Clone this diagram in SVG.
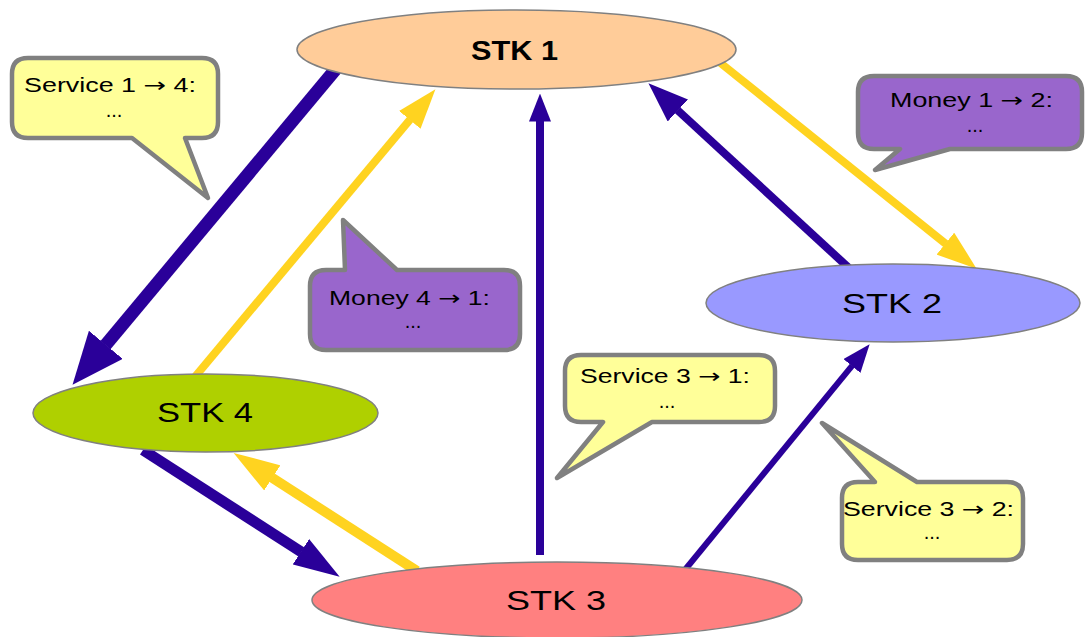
<svg xmlns="http://www.w3.org/2000/svg" width="1091" height="637" viewBox="0 0 1091 637">
<style>
.bl{stroke:#2a0099;fill:none}
.yl{stroke:#ffd320;fill:none}
.node{stroke:#808080;stroke-width:1.5}
.nt{font-family:"Liberation Sans",Arial,sans-serif;font-size:27px;fill:#000;text-anchor:middle}
.co{stroke:#808080;stroke-width:4.5;stroke-linejoin:round}
.ct{font-family:"Liberation Sans",Arial,sans-serif;font-size:20px;fill:#000;text-anchor:middle}
.ar{font-family:"DejaVu Sans",sans-serif}
.yel{fill:#ffff99}
.pur{fill:#9966cc}
</style>
<defs>
<marker id="hbB" markerUnits="userSpaceOnUse" viewBox="0 0 52 44" refX="0.5" refY="22" markerWidth="52" markerHeight="44" orient="auto"><path d="M0,0 L52,22 L0,44 Z" fill="#2a0099"/></marker>
<marker id="hmB" markerUnits="userSpaceOnUse" viewBox="0 0 46 30" refX="0.5" refY="15" markerWidth="46" markerHeight="30" orient="auto"><path d="M0,0 L46,15 L0,30 Z" fill="#2a0099"/></marker>
<marker id="hmY" markerUnits="userSpaceOnUse" viewBox="0 0 46 30" refX="0.5" refY="15" markerWidth="46" markerHeight="30" orient="auto"><path d="M0,0 L46,15 L0,30 Z" fill="#ffd320"/></marker>
<marker id="hsB" markerUnits="userSpaceOnUse" viewBox="0 0 40 30" refX="0.5" refY="15" markerWidth="40" markerHeight="30" orient="auto"><path d="M0,0 L40,15 L0,30 Z" fill="#2a0099"/></marker>
<marker id="hsY" markerUnits="userSpaceOnUse" viewBox="0 0 40 28" refX="0.5" refY="14" markerWidth="40" markerHeight="28" orient="auto"><path d="M0,0 L40,14 L0,28 Z" fill="#ffd320"/></marker>
<marker id="htB" markerUnits="userSpaceOnUse" viewBox="0 0 28 22" refX="0.5" refY="11" markerWidth="28" markerHeight="22" orient="auto"><path d="M0,0 L28,11 L0,22 Z" fill="#2a0099"/></marker>
</defs>
<g id="connectors">
<line class="bl" x1="340" y1="64" x2="105.5" y2="345.2" stroke-width="13" marker-end="url(#hbB)"/>
<line class="yl" x1="194" y1="378" x2="410.1" y2="119.5" stroke-width="8" marker-end="url(#hsY)"/>
<line class="bl" x1="540" y1="555" x2="540" y2="121" stroke-width="8" marker-end="url(#htB)"/>
<line class="bl" x1="850" y1="269" x2="677.5" y2="110.1" stroke-width="8" marker-end="url(#hsB)"/>
<line class="yl" x1="718" y1="61" x2="945.8" y2="243.9" stroke-width="8" marker-end="url(#hsY)"/>
<line class="bl" x1="684" y1="571" x2="852.2" y2="365.6" stroke-width="6" marker-end="url(#htB)"/>
<line class="bl" x1="143" y1="450" x2="301.4" y2="552" stroke-width="11" marker-end="url(#hmB)"/>
<line class="yl" x1="417" y1="571" x2="271.9" y2="477.6" stroke-width="10" marker-end="url(#hmY)"/>
</g>
<g id="stk1"><ellipse class="node" cx="516.5" cy="49.5" rx="219.5" ry="39.5" fill="#ffcc99"/><text class="nt" x="514.5" y="60" font-weight="bold" textLength="87" lengthAdjust="spacingAndGlyphs">STK 1</text></g>
<g id="stk2"><ellipse class="node" cx="893" cy="303" rx="187" ry="39" fill="#9999ff"/><text class="nt" x="892" y="313" textLength="100" lengthAdjust="spacingAndGlyphs">STK 2</text></g>
<g id="stk3"><ellipse class="node" cx="557" cy="600" rx="245" ry="38" fill="#ff8080"/><text class="nt" x="556" y="610" textLength="100" lengthAdjust="spacingAndGlyphs">STK 3</text></g>
<g id="stk4"><ellipse class="node" cx="205.5" cy="413" rx="172.5" ry="39" fill="#afd000"/><text class="nt" x="205" y="422" textLength="96" lengthAdjust="spacingAndGlyphs">STK 4</text></g>
<g id="callout-s14"><path class="co yel" d="M28,58 H202 Q218,58 218,74 V122 Q218,138 202,138 H185 L208,198 L132,138 H28 Q12,138 12,122 V74 Q12,58 28,58 Z"/><text class="ct" x="110" y="92" textLength="172" lengthAdjust="spacingAndGlyphs">Service 1 <tspan class="ar">→</tspan> 4:</text><text class="ct" x="114" y="117">...</text></g>
<g id="callout-m12"><path class="co pur" d="M874,76 H1066 Q1082,76 1082,92 V133 Q1082,149 1066,149 H950 L875,170 L900,149 H874 Q858,149 858,133 V92 Q858,76 874,76 Z"/><text class="ct" x="971.5" y="107" textLength="163" lengthAdjust="spacingAndGlyphs">Money 1 <tspan class="ar">→</tspan> 2:</text><text class="ct" x="975" y="132">...</text></g>
<g id="callout-m41"><path class="co pur" d="M326,270 H345 L343,220 L397,270 H504 Q520,270 520,286 V334 Q520,350 504,350 H326 Q310,350 310,334 V286 Q310,270 326,270 Z"/><text class="ct" x="409.5" y="305" textLength="161" lengthAdjust="spacingAndGlyphs">Money 4 <tspan class="ar">→</tspan> 1:</text><text class="ct" x="413" y="328">...</text></g>
<g id="callout-s31"><path class="co yel" d="M581,355 H759 Q775,355 775,371 V406 Q775,422 759,422 H652 L557,478 L603,422 H581 Q565,422 565,406 V371 Q565,355 581,355 Z"/><text class="ct" x="665" y="383" textLength="170" lengthAdjust="spacingAndGlyphs">Service 3 <tspan class="ar">→</tspan> 1:</text><text class="ct" x="667" y="408">...</text></g>
<g id="callout-s32"><path class="co yel" d="M858,482 H875 L822,423 L917,482 H1007 Q1023,482 1023,498 V544 Q1023,560 1007,560 H858 Q842,560 842,544 V498 Q842,482 858,482 Z"/><text class="ct" x="928.5" y="516" textLength="171" lengthAdjust="spacingAndGlyphs">Service 3 <tspan class="ar">→</tspan> 2:</text><text class="ct" x="932" y="539">...</text></g>
</svg>
